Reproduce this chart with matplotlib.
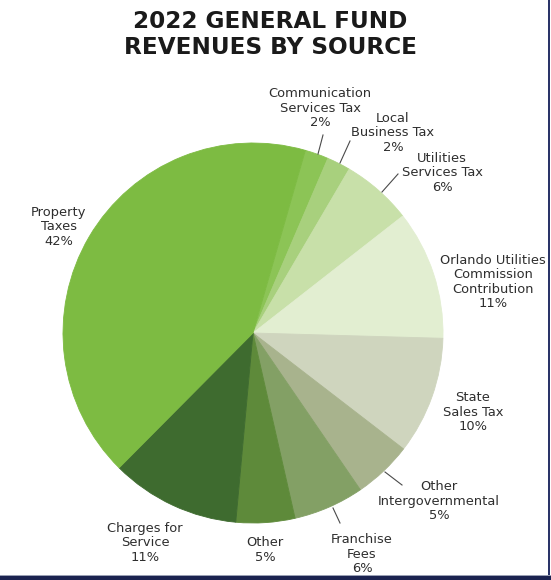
import matplotlib
matplotlib.use("Agg")
import matplotlib.pyplot as plt
from matplotlib.patches import Rectangle

# 2022 general fund revenues, percent of total, clockwise from the top
sources = ["Communication\nServices Tax", "Local\nBusiness Tax", "Utilities\nServices Tax",
           "Orlando Utilities\nCommission\nContribution", "State\nSales Tax",
           "Other\nIntergovernmental", "Franchise\nFees", "Other",
           "Charges for\nService", "Property\nTaxes"]
shares = [2, 2, 6, 11, 10, 5, 6, 5, 11, 42]
colors = ["#8cc456", "#a8d07d", "#c8e0a9", "#e2eed1", "#cfd5be",
          "#a8b38d", "#83a065", "#5e8a3a", "#3e6b2f", "#7dbb42"]

# label anchor (x, y) in pixels from the top-left corner, plus optional leader line
label_pos = [(320, 108), (393, 133), (442, 173), (493, 282), (473, 412),
             (439, 501), (362, 554), (265, 550), (145, 543), (59, 227)]
leaders = {0: ((323, 135), (318, 154)),
           1: ((350, 141), (340, 163)),
           2: ((398, 174), (382, 192)),
           5: ((385, 472), (402, 485)),
           6: ((333, 508), (340, 523))}

W, H = 551, 580
fig = plt.figure(figsize=(W / 100, H / 100), dpi=100)
ax = fig.add_axes([0, 0, 1, 1])


def py(y):
    return H - y


wedges, _ = ax.pie(shares, colors=colors, startangle=74, counterclock=False,
                   center=(253, py(333)), radius=190, frame=True)
for w in wedges:
    w.set_edgecolor(w.get_facecolor())
    w.set_linewidth(0.6)

ax.set_xlim(0, W)
ax.set_ylim(0, H)
ax.set_aspect("equal")
ax.axis("off")

for i, (name, pct) in enumerate(zip(sources, shares)):
    x, y = label_pos[i]
    ax.text(x, py(y), f"{name}\n{pct}%", ha="center", va="center",
            fontsize=9.4, family="DejaVu Sans", color="#2e2e2e", linespacing=1.13)

for (x0, y0), (x1, y1) in leaders.values():
    ax.plot([x0, x1], [py(y0), py(y1)], color="#4a4a4a", lw=0.8)

fig.text(270 / W, 1 - 21 / H, "2022 GENERAL FUND", ha="center", va="center",
         fontsize=16.7, fontweight="bold", family="DejaVu Sans", color="#1a1a1a")
fig.text(270 / W, 1 - 47 / H, "REVENUES BY SOURCE", ha="center", va="center",
         fontsize=16.7, fontweight="bold", family="DejaVu Sans", color="#1a1a1a")

# frame edges along the right and bottom
ax.add_patch(Rectangle((548, 0), 2, H, color="#2a3468", lw=0))
ax.add_patch(Rectangle((0, 0), W, 4, color="#1b2350", lw=0))
ax.add_patch(Rectangle((0, 4), W, 1, color="#9aa0b4", lw=0))

fig.savefig("out.png", dpi=100)
